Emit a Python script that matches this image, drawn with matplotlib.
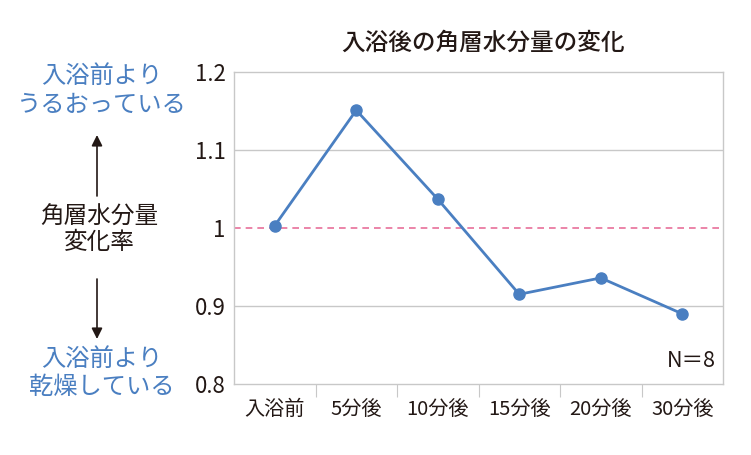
import matplotlib.pyplot as plt

plt.rcParams['font.family'] = ['Noto Sans CJK JP', 'DejaVu Sans']

# データ
categories = ['入浴前', '5分後', '10分後', '15分後', '20分後', '30分後']
values = [1.003, 1.151, 1.037, 0.915, 0.936, 0.890]
yticks = [0.8, 0.9, 1.0, 1.1, 1.2]
ytick_labels = ['0.8', '0.9', '1', '1.1', '1.2']

blue = '#4a7fc1'
dark = '#231815'
grid_c = '#c8c8c8'

fig = plt.figure(figsize=(7.51, 4.55), dpi=100)
ax = fig.add_axes([234 / 751, 1 - 384 / 455, (723 - 234) / 751, (384 - 72) / 455])

x = list(range(len(categories)))
ax.plot(x, values, color=blue, lw=2, marker='o', ms=8, zorder=3)

ax.set_xlim(-0.5, len(categories) - 0.5)
ax.set_ylim(0.8, 1.2)
for v in [0.9, 1.1]:
    ax.axhline(v, color=grid_c, lw=1, zorder=1)
ax.axhline(1.0, color='#e8709a', lw=1.2, ls=(0, (4, 3)), zorder=2)

for s in ax.spines.values():
    s.set_color(grid_c)
    s.set_linewidth(1)

ax.set_yticks(yticks)
ax.set_yticklabels(ytick_labels, fontsize=16, color=dark)
ax.tick_params(axis='y', length=0, pad=6)

# カテゴリ境界の目盛
ax.set_xticks([i + 0.5 for i in range(len(categories) - 1)])
ax.set_xticklabels([])
ax.tick_params(axis='x', which='major', length=9, color=grid_c, direction='out')
ax.set_xticks(x, minor=True)
ax.set_xticklabels(categories, minor=True, fontsize=14.5, color=dark)
ax.tick_params(axis='x', which='minor', length=0, pad=11)

ax.text(0.985, 0.04, 'N＝8', transform=ax.transAxes, ha='right', va='bottom',
        fontsize=15.5, color=dark)

fig.text(483 / 751, 1 - 43 / 455, '入浴後の角層水分量の変化', ha='center', va='center',
         fontsize=17, color=dark, fontweight='medium')

# 左側の説明
fig.text(102 / 751, 1 - 90 / 455, '入浴前より\nうるおっている', ha='center', va='center',
         fontsize=17.5, color=blue, linespacing=1.15)
fig.text(99 / 751, 1 - 230 / 455, '角層水分量\n変化率', ha='center', va='center',
         fontsize=17, color=dark, linespacing=1.1)
fig.text(102 / 751, 1 - 373 / 455, '入浴前より\n乾燥している', ha='center', va='center',
         fontsize=17.5, color=blue, linespacing=1.15)

fig.add_artist(plt.Annotation('', xy=(97 / 751, 1 - 135 / 455), xytext=(97 / 751, 1 - 196 / 455),
                              xycoords='figure fraction',
                              arrowprops=dict(arrowstyle='-|>', color=dark, lw=1.2,
                                              mutation_scale=16, shrinkA=0, shrinkB=0)))
fig.add_artist(plt.Annotation('', xy=(97 / 751, 1 - 339 / 455), xytext=(97 / 751, 1 - 279 / 455),
                              xycoords='figure fraction',
                              arrowprops=dict(arrowstyle='-|>', color=dark, lw=1.2,
                                              mutation_scale=16, shrinkA=0, shrinkB=0)))

fig.savefig('out.png', dpi=100)
